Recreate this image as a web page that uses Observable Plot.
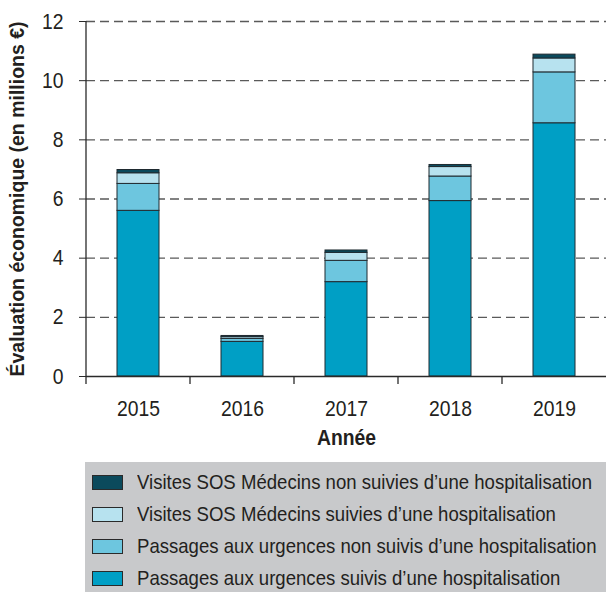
<!DOCTYPE html>
<html>
<head>
<meta charset="utf-8">
<script src="https://cdn.jsdelivr.net/npm/d3@7"></script>
<script src="https://cdn.jsdelivr.net/npm/@observablehq/plot@0.6"></script>
<style>
  html, body { margin: 0; padding: 0; background: #fff; }
  body { width: 606px; height: 592px; overflow: hidden; font-family: "Liberation Sans", Arial, sans-serif; color: #231f20; }
  #legend { margin-left: 85px; width: 521px; height: 130px; background: #c8c9cb; position: relative; overflow: hidden; }
  .row { position: absolute; left: 0; height: 32px; display: flex; align-items: center; white-space: nowrap; }
  .sw { flex: none; width: 29px; height: 13px; border: 1px solid #2a2a2a; margin-left: 7px; margin-right: 14px; }
  .lab { display: inline-block; font-size: 21px; white-space: nowrap; transform-origin: left center; }
  svg text { fill: #231f20; }
</style>
</head>
<body>
<div id="chart"></div>
<div id="legend"></div>
<script>
const years = ["2015", "2016", "2017", "2018", "2019"];
const seriesNames = [
  "Passages aux urgences suivis d’une hospitalisation",
  "Passages aux urgences non suivis d’une hospitalisation",
  "Visites SOS Médecins suivies d’une hospitalisation",
  "Visites SOS Médecins non suivies d’une hospitalisation"
];
const urgencesHosp    = [5.60, 1.17, 3.19, 5.93, 8.56];
const urgencesNonHosp = [0.91, 0.10, 0.72, 0.83, 1.72];
const sosHosp         = [0.36, 0.06, 0.27, 0.32, 0.47];
const sosNonHosp      = [0.11, 0.04, 0.08, 0.07, 0.13];
const seriesColors = ["#009fc5", "#6dc6df", "#b7e2ef", "#0b4a5c"];
const yTicks = [0, 2, 4, 6, 8, 10, 12];
const yLabel = "Évaluation économique (en millions €)";
const xLabel = "Année";

const seriesValues = [urgencesHosp, urgencesNonHosp, sosHosp, sosNonHosp];
const data = [];
years.forEach((yr, i) => {
  seriesNames.forEach((s, j) => data.push({year: yr, series: s, value: seriesValues[j][i]}));
});

const FONT = '"Liberation Sans", Arial, sans-serif';

// custom axis decorations: y axis line and band boundary ticks
function axisDecor(index, scales, values, dims) {
  const x = scales.x, y = scales.y;
  const g = d3.create("svg:g").attr("stroke", "#2a2a2a").attr("stroke-width", 1.3);
  const y0 = y(0);
  g.append("line").attr("x1", dims.marginLeft).attr("x2", dims.marginLeft)
    .attr("y1", y(12)).attr("y2", y0 + 8);
  for (let i = 1; i < years.length; ++i) {
    const bx = (x(years[i - 1]) + x.bandwidth() + x(years[i])) / 2;
    g.append("line").attr("x1", bx).attr("x2", bx).attr("y1", y0).attr("y2", y0 + 8);
  }
  return g.node();
}

const chart = Plot.plot({
  width: 606,
  height: 462,
  marginLeft: 86,
  marginRight: 0,
  marginTop: 21,
  marginBottom: 86,
  style: {fontFamily: FONT, fontSize: "22px", color: "#231f20", background: "#fff", overflow: "visible"},
  x: {type: "band", domain: years, paddingInner: 0.6, paddingOuter: 0.3, label: null},
  y: {domain: [0, 12], label: null},
  color: {domain: seriesNames, range: seriesColors},
  marks: [
    Plot.gridY(yTicks.filter(d => d > 0), {stroke: "#5a5a5a", strokeOpacity: 1, strokeWidth: 1.3, strokeDasharray: "9,5"}),
    Plot.barY(data, {x: "year", y: "value", fill: "series", stroke: "#1f2a30", strokeWidth: 1}),
    Plot.ruleY([0], {stroke: "#2a2a2a", strokeWidth: 1.3}),
    Plot.axisY({ticks: yTicks, tickSize: 7, tickPadding: 16, label: null, fontSize: 22, stroke: "#2a2a2a"}),
    Plot.axisX({tickSize: 0, tickPadding: 24, label: null, fontSize: 22}),
    axisDecor,
    Plot.text([yLabel], {frameAnchor: "left", dx: -69, rotate: -90, textAnchor: "middle", lineAnchor: "middle", fontWeight: "bold", fontSize: 21, text: d => d}),
    Plot.text([xLabel], {frameAnchor: "bottom", dy: 61, lineAnchor: "middle", fontWeight: "bold", fontSize: 22, text: d => d})
  ]
});
document.getElementById("chart").appendChild(chart);

// condense SVG texts (reference uses a condensed typeface)
const allTexts = [...chart.querySelectorAll("text")];
function condenseEl(t, f) {
  const L = t.getComputedTextLength();
  if (L > 0) { t.setAttribute("textLength", L * f); t.setAttribute("lengthAdjust", "spacingAndGlyphs"); }
}
const probe = allTexts.find(t => t.textContent === "2015");
const tickF = probe ? 43 / probe.getComputedTextLength() : 0.88;
allTexts.forEach(t => {
  if (t.textContent === yLabel) condenseEl(t, 355 / t.getComputedTextLength());
  else condenseEl(t, tickF);
});

// legend (top to bottom: reverse stacking order)
const legend = document.getElementById("legend");
const labs = [];
seriesNames.slice().reverse().forEach((s, k) => {
  const row = document.createElement("div");
  row.className = "row";
  row.style.top = (4 + k * 32) + "px";
  const sw = document.createElement("div");
  sw.className = "sw";
  sw.style.background = seriesColors[seriesNames.indexOf(s)];
  const lab = document.createElement("span");
  lab.className = "lab";
  lab.textContent = s;
  row.appendChild(sw); row.appendChild(lab);
  legend.appendChild(row);
  labs.push(lab);
});
const legF = 455 / labs[0].getBoundingClientRect().width;
labs.forEach(l => l.style.transform = `scaleX(${legF})`);
</script>
</body>
</html>
